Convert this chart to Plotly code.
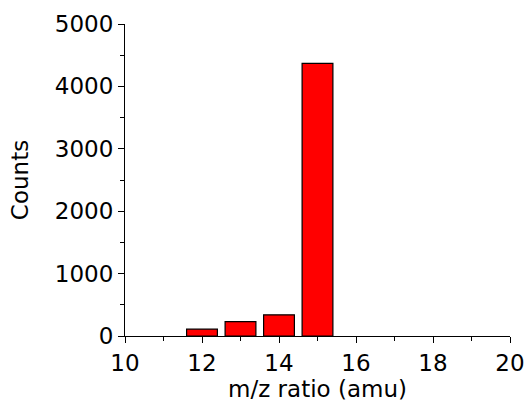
import plotly.graph_objects as go

mz = [12, 13, 14, 15]
counts = [110, 230, 340, 4370]
x_ticks = [10, 12, 14, 16, 18, 20]
y_ticks = [0, 1000, 2000, 3000, 4000, 5000]

fig = go.Figure(go.Bar(
    x=mz, y=counts, width=0.8,
    marker=dict(color="#ff0000", line=dict(color="#000000", width=1.2)),
))

font = dict(family="DejaVu Sans, Arial, sans-serif", size=23, color="#000")

fig.update_layout(
    width=526, height=407,
    margin=dict(l=125, r=16, t=24, b=71),
    plot_bgcolor="white", paper_bgcolor="white",
    font=font, showlegend=False,
    xaxis=dict(
        range=[10, 20], tickvals=x_ticks, ticktext=[str(v) for v in x_ticks],
        showline=True, linecolor="black", linewidth=1.2, automargin=False,
        ticks="outside", ticklen=6, tickwidth=1.2, tickcolor="black",
        minor=dict(ticks="outside", ticklen=4, tickwidth=1, tickcolor="black", dtick=1, tick0=0),
        showgrid=False, zeroline=False,
        title=dict(text="m/z ratio (amu)", standoff=5, font=font),
        tickfont=font,
    ),
    yaxis=dict(
        range=[0, 5000], tickvals=y_ticks, ticktext=[str(v) for v in y_ticks],
        showline=True, linecolor="black", linewidth=1.2, automargin=False,
        ticks="outside", ticklen=6, tickwidth=1.2, tickcolor="black",
        minor=dict(ticks="outside", ticklen=4, tickwidth=1, tickcolor="black", dtick=500, tick0=0),
        showgrid=False, zeroline=False,
        title=dict(text="Counts", standoff=19, font=font),
        tickfont=font,
    ),
)

fig.write_html("out.html")
